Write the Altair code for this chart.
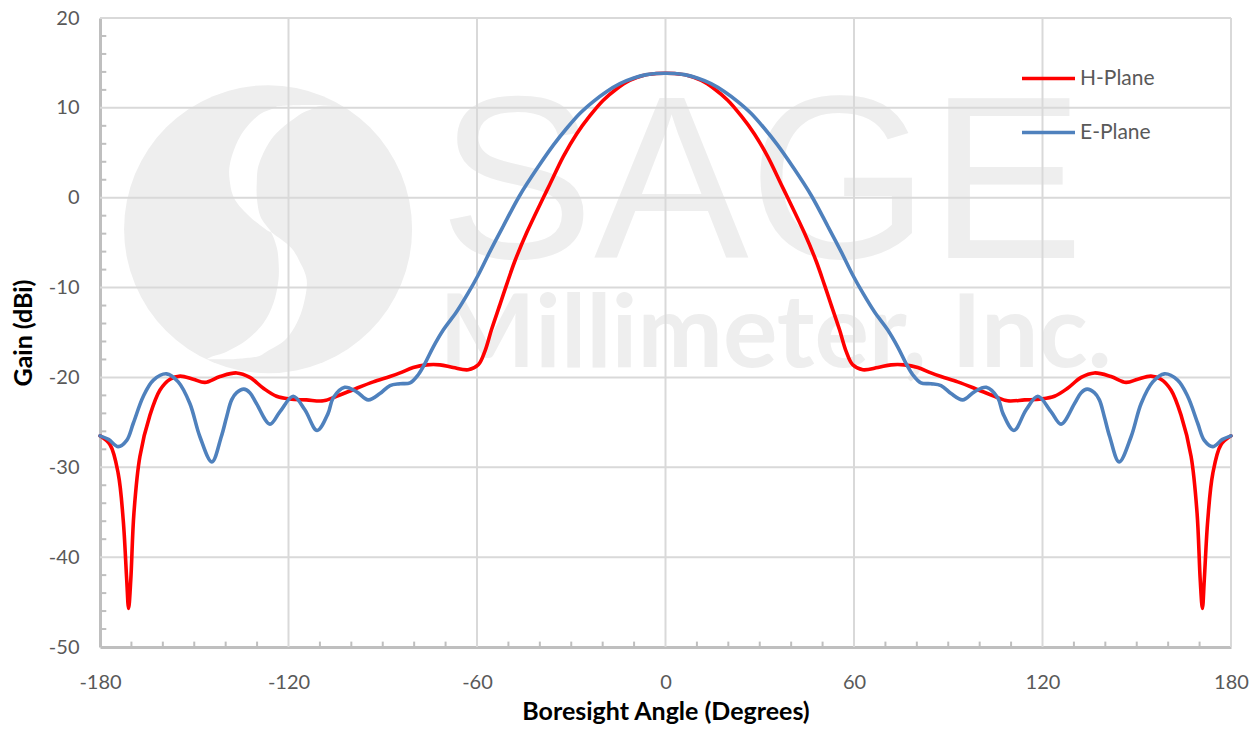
import altair as alt
import pandas as pd

h_angle = [-180,-176.8,-174.2,-172.6,-171.5,-170.9,-170.2,-169.2,-167.3,-164.1,-160.9,-157.7,-154.5,-150.3,-146.6,-141.8,-136.5,-132.3,-128,-123.8,-119.6,-114.3,-108.9,-104.7,-98.3,-93,-87.7,-84.5,-80.3,-76,-71.8,-67.6,-62.8,-59.6,-57.5,-55.4,-52.7,-50.6,-48,-44.2,-38.9,-36.8,-32.5,-28.3,-24.1,-19.8,-15.6,-11.4,-7.1,-2.9,0,
           2.9,7.1,11.4,15.6,19.8,24.1,28.3,32.5,36.8,38.9,44.2,48,50.6,52.7,55.4,57.5,59.6,62.8,67.6,71.8,76,80.3,84.5,87.7,93,98.3,104.7,108.9,114.3,119.6,123.8,128,132.3,136.5,141.8,146.6,150.3,154.5,157.7,160.9,164.1,167.3,169.2,170.2,170.9,171.5,172.6,174.2,176.8,180]
h_gain = [-26.5,-27.5,-30.7,-35.9,-42.5,-45.7,-42.5,-35.1,-28.8,-24.2,-21.4,-20.2,-19.85,-20.2,-20.55,-19.9,-19.5,-20,-21.2,-22.1,-22.4,-22.5,-22.6,-22.1,-21.2,-20.5,-19.9,-19.5,-18.9,-18.6,-18.6,-18.9,-19.15,-18.6,-17.1,-14.7,-11.9,-9.7,-7.1,-3.9,0,1.5,4.6,7.1,9.1,10.85,12.1,13.05,13.6,13.82,13.85,
          13.82,13.6,13.05,12.1,10.85,9.1,7.1,4.6,1.5,0,-3.9,-7.1,-9.7,-11.9,-14.7,-17.1,-18.6,-19.15,-18.9,-18.6,-18.6,-18.9,-19.5,-19.9,-20.5,-21.2,-22.1,-22.6,-22.5,-22.4,-22.1,-21.2,-20,-19.5,-19.9,-20.55,-20.2,-19.85,-20.2,-21.4,-24.2,-28.8,-35.1,-42.5,-45.7,-42.5,-35.9,-30.7,-27.5,-26.5]
e_angle = [-180,-177.3,-174.2,-171.5,-169.4,-166.2,-163,-158.8,-155.1,-151.4,-148.2,-144.4,-141.4,-139.7,-138.1,-136.5,-134.2,-132.3,-130.2,-125.9,-122.7,-118.5,-114.8,-110.9,-107.4,-105.8,-102.1,-98.3,-94.6,-90.9,-87.7,-84.5,-81.3,-78.7,-76.5,-73.9,-70.7,-66.5,-62.8,-59.6,-55.9,-51.7,-46.4,-40.4,-35.7,-31.5,-27.2,-23,-18.8,-14.5,-10.3,-6,-2.9,0,
           2.9,6,10.3,14.5,18.8,23,27.2,31.5,35.7,40.4,46.4,51.7,55.9,59.6,62.8,66.5,70.7,73.9,76.5,78.7,81.3,84.5,87.7,90.9,94.6,98.3,102.1,105.8,107.4,110.9,114.8,118.5,122.7,125.9,130.2,132.3,134.2,136.5,138.1,139.7,141.4,144.4,148.2,151.4,155.1,158.8,163,166.2,169.4,171.5,174.2,177.3,180]
e_gain = [-26.5,-26.9,-27.7,-27,-25.1,-22.1,-20.3,-19.6,-20.5,-22.9,-26.6,-29.4,-26.6,-24.4,-22.5,-21.7,-21.3,-21.7,-22.9,-25.2,-23.8,-22.1,-23.6,-25.9,-24,-22.3,-21.1,-21.6,-22.5,-21.8,-20.9,-20.7,-20.6,-19.7,-18.4,-16.6,-14.7,-12.7,-10.6,-8.6,-6,-3.2,0.25,3.5,5.85,7.7,9.4,10.7,11.8,12.7,13.3,13.7,13.83,13.85,
          13.83,13.7,13.3,12.7,11.8,10.7,9.4,7.7,5.85,3.5,0.25,-3.2,-6,-8.6,-10.6,-12.7,-14.7,-16.6,-18.4,-19.7,-20.6,-20.7,-20.9,-21.8,-22.5,-21.6,-21.1,-22.3,-24,-25.9,-23.6,-22.1,-23.8,-25.2,-22.9,-21.7,-21.3,-21.7,-22.5,-24.4,-26.6,-29.4,-26.6,-22.9,-20.5,-19.6,-20.3,-22.1,-25.1,-27,-27.7,-26.9,-26.5]

x_ticks = [-180, -120, -60, 0, 60, 120, 180]
y_ticks = [-50, -40, -30, -20, -10, 0, 10, 20]
x_minor = [-170,-160,-150,-140,-130,-110,-100,-90,-80,-70,-50,-40,-30,-20,-10,10,20,30,40,50,70,80,90,100,110,130,140,150,160,170]
y_minor = [v for v in range(-48, 20, 2) if v % 10 != 0]
x_grid = [-120, -60, 0, 60, 120, 180]
y_grid = [-40, -30, -20, -10, 0, 10, 20]

# watermark logo: the white S band
band_gain = [10.32,10.21,9.95,9.02,6.80,3.83,1.60,-0.25,-2.11,-3.59,-3.96,-5.45,-6.93,-9.15,-11.75,-13.98,-15.83,-17.13,-17.69,-17.98]
band_left = [-114.2,-122.7,-124.8,-130.1,-135.4,-138.6,-138.6,-137.0,-132.3,-127.0,-125.4,-123.8,-123.2,-123.2,-124.8,-128.0,-133.3,-139.7,-144.5,-146.0]
band_right = [-105.7,-110.0,-112.1,-117.4,-124.8,-129.3,-130.1,-130.0,-128.9,-125.9,-125.0,-119.5,-116.7,-114.2,-115.1,-117.4,-121.1,-127.0,-130.1,-137.6]
logo_center = {"x": [-126.5], "y": [-3.5]}

marks = pd.DataFrame({"angle": h_angle, "gain": h_gain, "series": "H-Plane"})
marks = pd.concat([marks, pd.DataFrame({"angle": e_angle, "gain": e_gain, "series": "E-Plane"})], ignore_index=True)

x_scale = alt.Scale(domain=[-180, 180], nice=False, zero=False)
y_scale = alt.Scale(domain=[-50, 20], nice=False, zero=False)
FONT = "Lato"
WM = "#eeeeee"

x_axis = alt.Axis(values=x_ticks, labelExpr="'' + datum.value", grid=False, ticks=False, domainColor="#bfbfbf", domainWidth=3,
                  labelFont=FONT, labelFontSize=20, labelColor="#595959", labelPadding=25, labelOverlap=False,
                  labelFlush=False, titleFont=FONT, titleFontSize=25, titleFontWeight="bold", titleColor="#000000", titlePadding=7)
y_axis = alt.Axis(values=y_ticks, labelExpr="'' + datum.value", grid=False, ticks=False, domainColor="#bfbfbf", domainWidth=3,
                  labelFont=FONT, labelFontSize=20, labelColor="#595959", labelPadding=21, labelOverlap=False,
                  labelFlush=False, titleFont=FONT, titleFontSize=25, titleFontWeight="bold", titleColor="#000000", titlePadding=12)
X_T = "Boresight Angle (Degrees)"
Y_T = "Gain (dBi)"
X = lambda f="x:Q": alt.X(f, scale=x_scale, axis=x_axis, title=X_T)
Y = lambda f="y:Q": alt.Y(f, scale=y_scale, axis=y_axis, title=Y_T)

logo = alt.Chart(pd.DataFrame(logo_center)).mark_circle(size=82944, color=WM, opacity=1).encode(x=X(), y=Y())
band = alt.Chart(pd.DataFrame({"y": band_gain, "x": band_left, "x2": band_right})).mark_area(
    orient="horizontal", color="white", interpolate="cardinal", opacity=1
).encode(x=X(), x2="x2:Q", y=Y())

sage = alt.Chart(pd.DataFrame({"x": [-72.0], "y": [-6.7], "t": ["SAGE"]})).mark_text(
    font="Liberation Sans", fontSize=232, color=WM, align="left", baseline="alphabetic"
).encode(x=X(), y=Y(), text="t:N")
mill = alt.Chart(pd.DataFrame({"x": [-72.0], "y": [-18.8], "t": ["Millimeter, Inc."]})).mark_text(
    font="Lato", fontSize=102, fontWeight="bold", color=WM, align="left", baseline="alphabetic"
).encode(x=X(), y=Y(), text="t:N")

grid_x = alt.Chart(pd.DataFrame({"x": x_grid})).mark_rule(color="#d9d9d9", strokeWidth=2).encode(x=X())
grid_y = alt.Chart(pd.DataFrame({"y": y_grid})).mark_rule(color="#d9d9d9", strokeWidth=2).encode(y=Y())

ymin_df = pd.DataFrame({"y": y_minor, "x": -180, "x2": -178})
xmin_df = pd.DataFrame({"x": x_minor, "y": -50, "y2": -49.4})
tick_y = alt.Chart(ymin_df).mark_rule(color="#bfbfbf", strokeWidth=2).encode(x=X(), x2="x2:Q", y=Y())
tick_x = alt.Chart(xmin_df).mark_rule(color="#bfbfbf", strokeWidth=2).encode(x=X(), y=Y(), y2="y2:Q")

lines = alt.Chart(marks).mark_line(strokeWidth=3.6, interpolate="catmull-rom", strokeCap="round", strokeJoin="round").encode(
    x=X("angle:Q"),
    y=Y("gain:Q"),
    color=alt.Color("series:N", title=None,
                    scale=alt.Scale(domain=["H-Plane", "E-Plane"], range=["#ff0000", "#4f81bd"]),
                    legend=alt.Legend(orient="none", legendX=920, legendY=32, symbolType="stroke", symbolSize=2809,
                                      symbolStrokeWidth=3.6, labelFont=FONT, labelFontSize=21, labelColor="#595959",
                                      labelOffset=3, rowPadding=15, padding=0)),
)

chart = alt.layer(logo, band, sage, mill, grid_x, grid_y, tick_y, tick_x, lines).properties(
    width=1131, height=629, autosize=alt.AutoSizeParams(type="none"),
    padding={"left": 92, "top": 10, "right": 20, "bottom": 77}, background="white"
).configure_view(stroke=None)

chart.save("out.html", embed_options={"renderer": "svg", "actions": False})
